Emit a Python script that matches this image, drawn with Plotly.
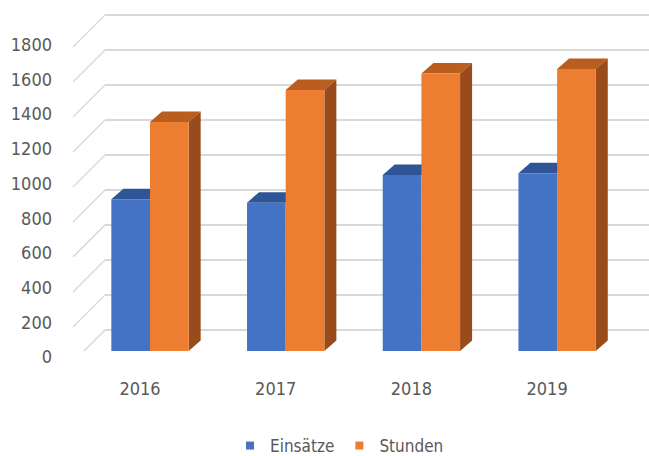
import plotly.graph_objects as go

# ---- data ----
years = ["2016", "2017", "2018", "2019"]
einsaetze = [875, 855, 1015, 1025]
stunden = [1320, 1505, 1600, 1625]
y_ticks = [0, 200, 400, 600, 800, 1000, 1200, 1400, 1600, 1800]

# ---- layout constants (pixels) ----
W, H = 649, 456
ML, MR, MT, MB = 105, 0, 0, 105
PLOT_H = H - MT - MB          # 351
PX_PER_CAT = 135.7
PX_PER_200 = 34.7             # front (bar) scale
BACK_PX_PER_200 = 35.0        # back wall scale
BACK_LIFT = 21                # back wall 0-line above bar baseline (px)
DEPTH_X, DEPTH_Y = 12, 10.5   # bar depth projection (px)
WALL_D = 32                   # side wall depth (px)

BLUE, BLUE_TOP = "#4472C4", "#2F5597"
ORANGE, ORANGE_TOP, ORANGE_SIDE = "#ED7D31", "#B95E1F", "#9A4B1B"
GRID = "#D9D9D9"
TXT = "#595959"
FONT = "DejaVu Sans Condensed, Liberation Sans Narrow, sans-serif"

xpos = list(range(len(years)))
bw = 0.285
x_lo = -(45 / PX_PER_CAT)
x_hi = (W - ML - 45) / PX_PER_CAT
y1_top = PLOT_H / PX_PER_200 * 200
y2_lo = -BACK_LIFT / BACK_PX_PER_200 * 200
y2_hi = (PLOT_H - BACK_LIFT) / BACK_PX_PER_200 * 200

dx = DEPTH_X / PX_PER_CAT
dy = DEPTH_Y / PX_PER_200 * 200

fig = go.Figure()
fig.add_trace(go.Bar(x=xpos, y=einsaetze, width=bw, offset=-bw,
                     marker=dict(color=BLUE, line=dict(width=0)),
                     showlegend=False, name="Einsätze"))
fig.add_trace(go.Bar(x=xpos, y=stunden, width=bw, offset=0,
                     marker=dict(color=ORANGE, line=dict(width=0)),
                     showlegend=False, name="Stunden"))
# legend entries with small square markers
fig.add_trace(go.Scatter(x=[None], y=[None], mode="markers", name="Einsätze",
                         marker=dict(symbol="square", size=8, color=BLUE)))
fig.add_trace(go.Scatter(x=[None], y=[None], mode="markers", name="Stunden",
                         marker=dict(symbol="square", size=8, color=ORANGE)))

shapes = []
# left wall diagonal lines
for v in y_ticks:
    shapes.append(dict(type="line", xref="paper", yref="y2",
                       xsizemode="pixel", xanchor=0, x0=-WALL_D, x1=0,
                       ysizemode="pixel", yanchor=v, y0=-WALL_D, y1=0,
                       line=dict(color=GRID, width=1.5), layer="below"))
# 3D faces of bars
for i, (b, o) in enumerate(zip(einsaetze, stunden)):
    xl, xr = i - bw, i
    shapes.append(dict(type="path", xref="x", yref="y", layer="between",
                       path=f"M{xl},{b} L{xr},{b} L{xr+dx},{b+dy} L{xl+dx},{b+dy} Z",
                       fillcolor=BLUE_TOP, line=dict(width=0)))
    xl, xr = i, i + bw
    shapes.append(dict(type="path", xref="x", yref="y", layer="between",
                       path=f"M{xl},{o} L{xr},{o} L{xr+dx},{o+dy} L{xl+dx},{o+dy} Z",
                       fillcolor=ORANGE_TOP, line=dict(width=0)))
    shapes.append(dict(type="path", xref="x", yref="y", layer="between",
                       path=f"M{xr},0 L{xr+dx},{dy} L{xr+dx},{o+dy} L{xr},{o} Z",
                       fillcolor=ORANGE_SIDE, line=dict(width=0)))

fig.update_layout(
    width=W, height=H,
    margin=dict(l=ML, r=MR, t=MT, b=MB, autoexpand=False),
    paper_bgcolor="white", plot_bgcolor="white",
    barmode="overlay",
    font=dict(family=FONT, size=18, color=TXT),
    shapes=shapes,
    xaxis=dict(range=[x_lo, x_hi], tickvals=xpos, ticktext=years,
               showgrid=False, zeroline=False, showline=False, ticks="",
               automargin=False,
               ticklabelshift=-10, ticklabelstandoff=25,
               tickfont=dict(family=FONT, size=18, color=TXT)),
    yaxis=dict(range=[0, y1_top], tickvals=y_ticks, showgrid=False,
               zeroline=False, showline=False, ticks="", automargin=False,
               ticklabelshift=6, ticklabelstandoff=52,
               tickfont=dict(family=FONT, size=18, color=TXT)),
    yaxis2=dict(range=[y2_lo, y2_hi], overlaying="y", side="left",
                tickvals=y_ticks, showticklabels=False, showgrid=True,
                gridcolor=GRID, gridwidth=1.5, zeroline=False, showline=False,
                ticks="", automargin=False),
    legend=dict(orientation="h", xref="container", yref="container",
                xanchor="left", x=230 / W,
                yanchor="middle", y=(H - 446) / H,
                font=dict(family=FONT, size=17, color=TXT),
                bgcolor="rgba(0,0,0,0)"),
)

fig.write_html("out.html", config={"displayModeBar": False},
               post_script="document.body.style.margin='0px';")
